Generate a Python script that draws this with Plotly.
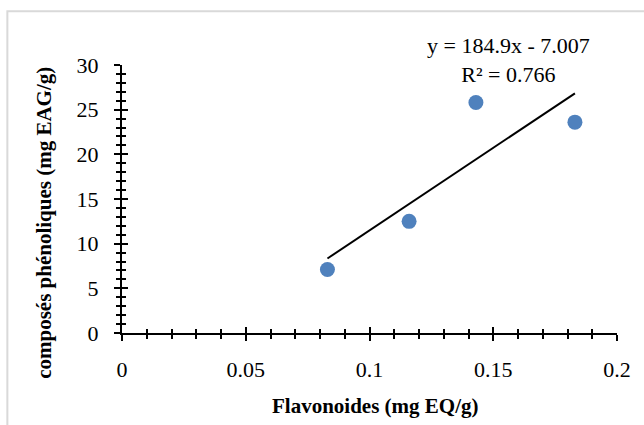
import plotly.graph_objects as go

# ---- data ----
flavonoides = [0.083, 0.116, 0.143, 0.183]          # mg EQ/g
phenoliques = [7.1, 12.5, 25.8, 23.6]               # mg EAG/g
slope = 184.9
intercept = -7.007
r_squared = 0.766
x_tick_vals = [0, 0.05, 0.1, 0.15, 0.2]
x_tick_text = ["0", "0.05", "0.1", "0.15", "0.2"]
y_tick_vals = [0, 5, 10, 15, 20, 25, 30]
y_tick_text = ["0", "5", "10", "15", "20", "25", "30"]

x_title = "Flavonoides (mg EQ/g)"
y_title = "composés phénoliques (mg EAG/g)"

FONT = "Liberation Serif, Times New Roman, serif"

trend_x = [min(flavonoides), max(flavonoides)]
trend_y = [slope * v + intercept for v in trend_x]

fig = go.Figure()
fig.add_trace(go.Scatter(x=trend_x, y=trend_y, mode="lines",
                         line=dict(color="black", width=2), hoverinfo="skip"))
fig.add_trace(go.Scatter(x=flavonoides, y=phenoliques, mode="markers",
                         marker=dict(color="#4F81BD", size=15, line=dict(width=0))))
# invisible trace on the overlay axes (used for "cross" ticks)
fig.add_trace(go.Scatter(x=[0], y=[0], xaxis="x2", yaxis="y2", mode="markers",
                         marker=dict(opacity=0), hoverinfo="skip"))

common = dict(showgrid=False, zeroline=False, tickcolor="black", tickwidth=2,
              ticklen=6)

fig.update_layout(
    width=644, height=425,
    margin=dict(l=122, r=27, t=65, b=92),
    paper_bgcolor="white", plot_bgcolor="white",
    showlegend=False,
    font=dict(family=FONT, size=22, color="black"),
    xaxis=dict(range=[0, 0.2], tickvals=x_tick_vals, ticktext=x_tick_text,
               showline=True, linecolor="black", linewidth=2, ticks="outside",
               ticklabelstandoff=10,
               minor=dict(ticks="outside", dtick=0.01, ticklen=4, tickwidth=1.5,
                          tickcolor="black"),
               tickfont=dict(family=FONT, size=22), **common),
    yaxis=dict(range=[0, 30], tickvals=y_tick_vals, ticktext=y_tick_text,
               showline=True, linecolor="black", linewidth=2, ticks="outside",
               ticklabelstandoff=11,
               minor=dict(ticks="outside", dtick=1, ticklen=4, tickwidth=1.5,
                          tickcolor="black"),
               tickfont=dict(family=FONT, size=22), **common),
    xaxis2=dict(range=[0, 0.2], overlaying="x", anchor="y", side="bottom",
                tickvals=x_tick_vals, showticklabels=False, showline=False,
                ticks="inside",
                minor=dict(ticks="inside", dtick=0.01, ticklen=4, tickwidth=1.5,
                           tickcolor="black"), **common),
    yaxis2=dict(range=[0, 30], overlaying="y", anchor="x", side="left",
                tickvals=y_tick_vals, showticklabels=False, showline=False,
                ticks="inside",
                minor=dict(ticks="inside", dtick=1, ticklen=4, tickwidth=1.5,
                           tickcolor="black"), **common),
)

fig.add_annotation(
    x=0.7815, y=1.02, xref="paper", yref="paper", showarrow=False,
    text=f"y = {slope}x - {abs(intercept)}<br>R² = {r_squared}",
    font=dict(family=FONT, size=22, color="black"), align="center",
    xanchor="center", yanchor="middle")

fig.add_annotation(
    x=0.5126, y=-0.2714, xref="paper", yref="paper", showarrow=False,
    text=f"<b>{x_title}</b>", font=dict(family=FONT, size=21, color="black"),
    xanchor="center", yanchor="middle")

fig.add_annotation(
    x=-0.1567, y=0.4126, xref="paper", yref="paper", showarrow=False,
    text=f"<b>{y_title}</b>", textangle=-90,
    font=dict(family=FONT, size=21, color="black"),
    xanchor="center", yanchor="middle")

# chart-area border (light grey, extending past the right/bottom edges)
fig.add_shape(type="rect", xref="paper", yref="paper",
              x0=-0.2316, x1=1.6, y0=-0.7, y1=1.2007,
              line=dict(color="#d9d9d9", width=2), fillcolor="rgba(0,0,0,0)",
              layer="below")

fig.write_html("out.html")
